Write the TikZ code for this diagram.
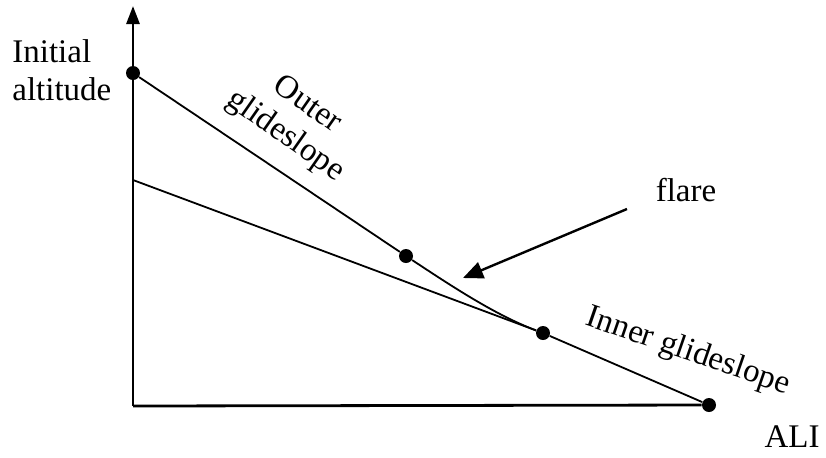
\documentclass[tikz,border=0pt]{standalone}
\usepackage{fontspec}
\setmainfont{Liberation Serif}
\usetikzlibrary{arrows.meta}

\begin{document}
\begin{tikzpicture}[
    x=0.5pt, y=-0.5pt,
    lbl/.style={font=\fontsize{16.5}{19}\selectfont, inner sep=0pt},
    dot/.style={circle, fill, inner sep=0pt, minimum size=7pt},
    ax/.style={line width=1.4pt},
    ln/.style={line width=0.9pt},
    arr/.style={line width=1.2pt, -{Triangle[length=10pt, width=8.5pt]}}
]
\useasboundingbox (0,0) rectangle (826,457);
% axes
\coordinate (origin) at (133,406);
\coordinate (ytop) at (133,6);
\node[dot] (init) at (133,73) {};
\node[dot] (flarestart) at (406,256) {};
\node[dot] (flareend) at (543,333) {};
\node[dot] (touch) at (709,405) {};
\coordinate (innerstart) at (133,180);
\draw[ax, -{Triangle[length=9pt, width=6.5pt]}] (origin) -- (ytop);
\draw[ax] (origin) -- (touch);
% glideslopes
\draw[ln] (init) -- (flarestart);
\draw[ln] (innerstart) -- (flareend) -- (touch);
\draw[ln] (flarestart) .. controls (450,285) and (495,315) .. (flareend);
% labels
\node[lbl, anchor=west, align=left] (altlbl) at (12,70) {Initial\\altitude};
\node[lbl, align=center, rotate=-35] (outerlbl) at (296,121) {Outer\\glideslope};
\node[lbl, rotate=-19] (innerlbl) at (688,352) {Inner glideslope};
\node[lbl] (flarelbl) at (686,190) {flare};
\node[lbl] (alilbl) at (792,437) {ALI};
\coordinate (flaretail) at (627,209);
\coordinate (flaretip) at (463,278);
\draw[arr] (flaretail) -- (flaretip);
\end{tikzpicture}
\end{document}
